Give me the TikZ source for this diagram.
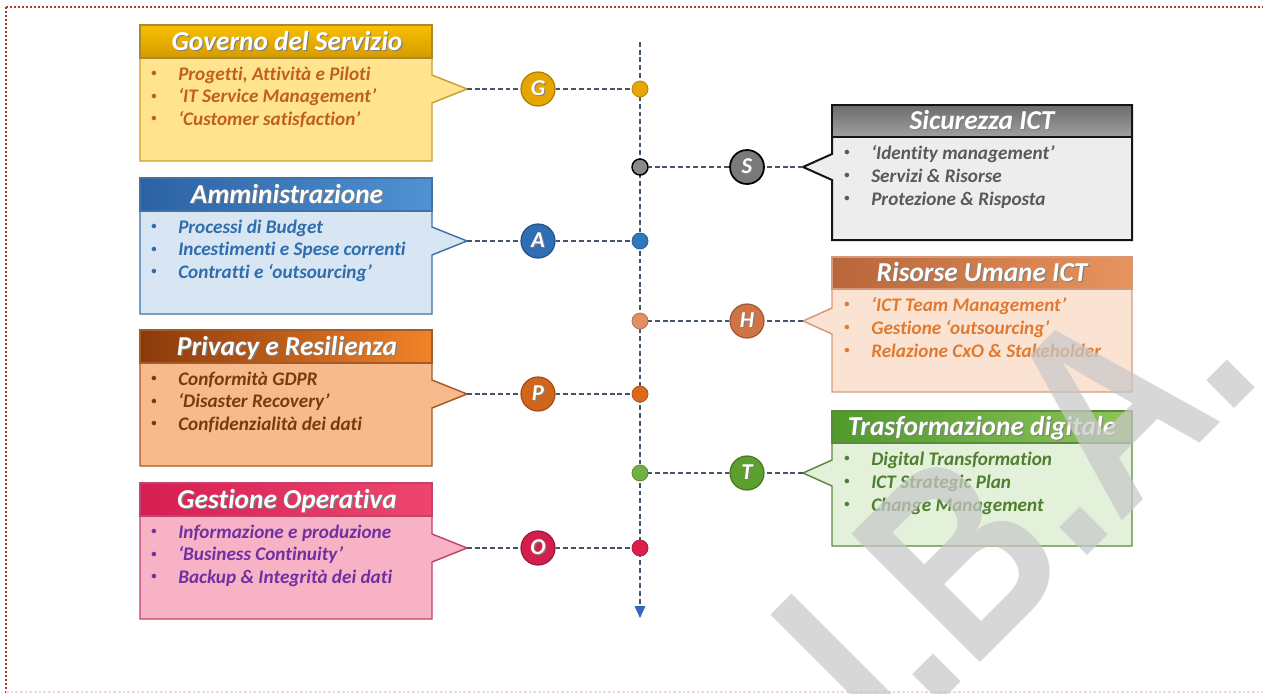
\documentclass[tikz,border=0pt]{standalone}
\usepackage{fontspec}
\setmainfont{Carlito}[Ligatures=NoCommon]
\newfontfamily\wmfont{Liberation Sans}
\usetikzlibrary{arrows.meta}
% box colours
\definecolor{Gbodyc}{HTML}{FFE38F}\definecolor{Gline}{HTML}{C9A030}\definecolor{Gtop}{HTML}{F8C000}\definecolor{Gbot}{HTML}{D49A00}\definecolor{Gtxtc}{HTML}{C0601A}
\definecolor{Abodyc}{HTML}{D8E5F3}\definecolor{Aline}{HTML}{3E72A8}\definecolor{Aleft}{HTML}{2C62A4}\definecolor{Aright}{HTML}{4F92D2}\definecolor{Atxtc}{HTML}{2E6DAE}
\definecolor{Pbodyc}{HTML}{F7BA8C}\definecolor{Pline}{HTML}{A65A25}\definecolor{Pleft}{HTML}{8A3A0C}\definecolor{Pright}{HTML}{F28228}\definecolor{Ptxtc}{HTML}{7A3A0E}
\definecolor{Obodyc}{HTML}{F8B2C6}\definecolor{Oline}{HTML}{C2446C}\definecolor{Oleft}{HTML}{D61E52}\definecolor{Oright}{HTML}{EE4670}\definecolor{Otxtc}{HTML}{7030A0}
\definecolor{Sbodyc}{HTML}{EDEDED}\definecolor{Sline}{HTML}{151515}\definecolor{Sleft}{HTML}{6C6C6C}\definecolor{Sright}{HTML}{A0A0A0}\definecolor{Stxtc}{HTML}{595959}
\definecolor{Hbodyc}{HTML}{FBE3D4}\definecolor{Hline}{HTML}{D9977A}\definecolor{Hleft}{HTML}{B8663A}\definecolor{Hright}{HTML}{E8945F}\definecolor{Htxtc}{HTML}{E07A30}
\definecolor{Tbodyc}{HTML}{E3F0DA}\definecolor{Tline}{HTML}{5B8A3C}\definecolor{Tleft}{HTML}{4F9A2A}\definecolor{Tright}{HTML}{8EC45C}\definecolor{Ttxtc}{HTML}{4E7F2E}
% circles and dots
\definecolor{Gcircc}{HTML}{E6A500}\definecolor{Gdotc}{HTML}{E8A600}
\definecolor{Acircc}{HTML}{2F6DB5}\definecolor{Adotc}{HTML}{2F78C0}
\definecolor{Pcircc}{HTML}{D2651C}\definecolor{Pdotc}{HTML}{DD6A1A}
\definecolor{Ocircc}{HTML}{D21F4B}\definecolor{Odotc}{HTML}{DC1F4D}
\definecolor{Scircc}{HTML}{7A7A7A}\definecolor{Sdotc}{HTML}{8A8A8A}
\definecolor{Hcircc}{HTML}{D07445}\definecolor{Hdotc}{HTML}{E38F64}
\definecolor{Tcircc}{HTML}{5DA02F}\definecolor{Tdotc}{HTML}{72B043}
\definecolor{connc}{HTML}{44546A}\definecolor{arrowc}{HTML}{3566C0}
\definecolor{brdc}{HTML}{B03A3A}\definecolor{brdfaintc}{HTML}{F0D6D6}
\definecolor{wmc}{HTML}{C8C8C8}

\newcommand{\bul}{\makebox[21pt][l]{\kern0.8pt\raisebox{0.35ex}{\fontsize{8}{8}\selectfont\upshape•}}}
\newcommand{\shtext}[1]{\rlap{\kern0.9pt\raisebox{-0.9pt}{\color{black!50}#1}}#1}

\newcommand{\lbox}[7]{%
  \draw[#1body] (140,#2) -- (432,#2) -- (432,{#3-14}) -- (467,#3) -- (432,{#3+14}) -- (432,{#2+136}) -- (140,{#2+136}) -- cycle;
  \draw[#1head] (140,#2) rectangle (432,{#2+33});
  \node[ttl] (#1title) at (287,{#2+25}) {\shtext{#4}};
  \node[txt,text=#1txtc] (#1l1) at (150,{#2+55}) {\bul#5};
  \node[txt,text=#1txtc] (#1l2) at (150,{#2+77.5}) {\bul#6};
  \node[txt,text=#1txtc] (#1l3) at (150,{#2+100}) {\bul#7};
  \coordinate (#1tip) at (467,#3);
}
\newcommand{\rbox}[7]{%
  \draw[#1body] (832,#2) -- (1132,#2) -- (1132,{#2+135}) -- (832,{#2+135}) -- (832,{#3+13}) -- (803,#3) -- (832,{#3-13}) -- cycle;
  \draw[#1head] (832,#2) rectangle (1132,{#2+32});
  \node[ttl] (#1title) at (982,{#2+24}) {\shtext{#4}};
  \node[txt,text=#1txtc] (#1l1) at (843,{#2+54}) {\bul#5};
  \node[txt,text=#1txtc] (#1l2) at (843,{#2+77}) {\bul#6};
  \node[txt,text=#1txtc] (#1l3) at (843,{#2+100}) {\bul#7};
  \coordinate (#1tip) at (803,#3);
}

\begin{document}
\begin{tikzpicture}[x=0.75pt,y=-0.75pt,
  ttl/.style={anchor=base,inner sep=0pt,text=white,font=\fontsize{20.5}{24}\selectfont\bfseries\itshape},
  txt/.style={anchor=base west,inner sep=0pt,font=\fontsize{14.4}{17}\selectfont\bfseries\itshape},
  Gbody/.style={fill=Gbodyc,draw=Gline,line width=1.1pt},
  Ghead/.style={top color=Gtop,bottom color=Gbot,draw=Gline!85!black,line width=1.1pt},
  Abody/.style={fill=Abodyc,draw=Aline,line width=1.1pt},
  Ahead/.style={left color=Aleft,right color=Aright,draw=Aline,line width=1.1pt},
  Pbody/.style={fill=Pbodyc,draw=Pline,line width=1.1pt},
  Phead/.style={left color=Pleft,right color=Pright,draw=Pline,line width=1.1pt},
  Obody/.style={fill=Obodyc,draw=Oline,line width=1.1pt},
  Ohead/.style={left color=Oleft,right color=Oright,draw=Oline,line width=1.1pt},
  Sbody/.style={fill=Sbodyc,draw=Sline,line width=1.5pt},
  Shead/.style={top color=Sleft,bottom color=Sright,draw=Sline,line width=1.5pt},
  Hbody/.style={fill=Hbodyc,draw=Hline,line width=1.1pt},
  Hhead/.style={left color=Hleft,right color=Hright,draw=Hline,line width=1.1pt},
  Tbody/.style={fill=Tbodyc,draw=Tline,line width=1.1pt},
  Thead/.style={left color=Tleft,right color=Tright,draw=Tline,line width=1.1pt},
  circn/.style={circle,minimum size=25.5pt,inner sep=0pt,line width=0.9pt,text=white,font=\fontsize{17}{20}\selectfont\bfseries\itshape},
  dotn/.style={circle,minimum size=12pt,inner sep=0pt,line width=0.6pt},
  conn/.style={draw=connc,line width=1.1pt,dash pattern=on 3.6pt off 2.2pt},
  axisline/.style={draw=connc,line width=1.1pt,dash pattern=on 3.6pt off 2.2pt,-{Triangle[length=9pt,width=8pt,color=arrowc]}},
  brd/.style={draw=brdc,line width=1.6pt,dash pattern=on 1.6pt off 1.4pt},
  brdfaint/.style={draw=brdfaintc,line width=1pt,dash pattern=on 2pt off 1.5pt},
  wm/.style={rotate=45,yscale=1.27,anchor=base west,inner sep=0pt,text=wmc,text opacity=0.72,font=\wmfont\bfseries\fontsize{156}{156}\selectfont}
]
\useasboundingbox (0,0) rectangle (1263,693);
\fill[white] (0,0) rectangle (1263,693);
% page frame
\draw[brd] (6,7) -- (1263,7);
\draw[brd] (6,7) -- (6,693);
\draw[brdfaint] (6,692) -- (1263,692);

% left boxes
\lbox{G}{25}{89}{Governo del Servizio}{Progetti, Attività e Piloti}{‘IT Service Management’}{‘Customer satisfaction’}
\lbox{A}{178}{241}{Amministrazione}{Processi di Budget}{Incestimenti e Spese correnti}{Contratti e ‘outsourcing’}
\lbox{P}{330}{394}{Privacy e Resilienza}{Conformità GDPR}{‘Disaster Recovery’}{Confidenzialità dei dati}
\lbox{O}{483}{548}{Gestione Operativa}{Informazione e produzione}{‘Business Continuity’}{Backup \& Integrità dei dati}
% right boxes
\rbox{S}{105}{167}{Sicurezza ICT}{‘Identity management’}{Servizi \& Risorse}{Protezione \& Risposta}
\rbox{H}{257}{321}{Risorse Umane ICT}{‘ICT Team Management’}{Gestione ‘outsourcing’}{Relazione CxO \& Stakeholder}
\rbox{T}{411}{473}{Trasformazione digitale}{Digital Transformation}{ICT Strategic Plan}{Change Management}

% time axis
\coordinate (axtop) at (640,42);
\coordinate (axend) at (640,618);
\draw[axisline] (axtop) -- (axend);

% dots on the axis
\node[dotn,fill=Gdotc,draw=Gdotc!80!black] (Gd) at (640,89) {};
\node[dotn,fill=Sdotc,draw=black,line width=1.1pt] (Sd) at (640,167) {};
\node[dotn,fill=Adotc,draw=Adotc!80!black] (Ad) at (640,241) {};
\node[dotn,fill=Hdotc,draw=Hdotc!80!black] (Hd) at (640,321) {};
\node[dotn,fill=Pdotc,draw=Pdotc!80!black] (Pd) at (640,394) {};
\node[dotn,fill=Tdotc,draw=Tdotc!80!black] (Td) at (640,473) {};
\node[dotn,fill=Odotc,draw=Odotc!80!black] (Od) at (640,548) {};

% letter circles
\node[circn,fill=Gcircc,draw=Gcircc!75!black] (Gc) at (538,89) {\shtext{G}};
\node[circn,fill=Acircc,draw=Acircc!75!black] (Ac) at (538,241) {\shtext{A}};
\node[circn,fill=Pcircc,draw=Pcircc!75!black] (Pc) at (538,394) {\shtext{P}};
\node[circn,fill=Ocircc,draw=Ocircc!75!black] (Oc) at (538,548) {\shtext{O}};
\node[circn,fill=Scircc,draw=black,line width=1.3pt] (Sc) at (747,167) {\shtext{S}};
\node[circn,fill=Hcircc,draw=Hcircc!75!black] (Hc) at (747,321) {\shtext{H}};
\node[circn,fill=Tcircc,draw=Tcircc!75!black] (Tc) at (747,473) {\shtext{T}};

% connectors
\draw[conn] (Gtip) -- (Gc) -- (Gd);
\draw[conn] (Atip) -- (Ac) -- (Ad);
\draw[conn] (Ptip) -- (Pc) -- (Pd);
\draw[conn] (Otip) -- (Oc) -- (Od);
\draw[conn] (Stip) -- (Sc) -- (Sd);
\draw[conn] (Htip) -- (Hc) -- (Hd);
\draw[conn] (Ttip) -- (Tc) -- (Td);

% watermark
\node[wm] (wmk) at (889,754) {I.B.A.};
\end{tikzpicture}
\end{document}
